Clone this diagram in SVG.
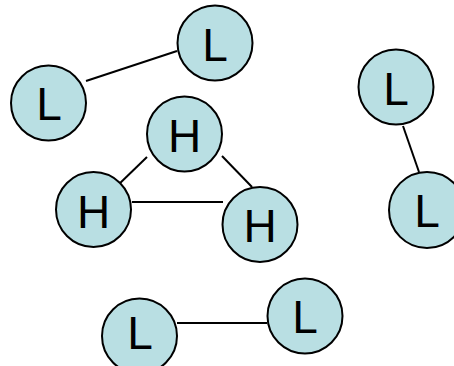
<svg xmlns="http://www.w3.org/2000/svg" width="454" height="366" viewBox="0 0 454 366">
<style>
.n circle{fill:#b9dfe3;stroke:#000;stroke-width:2}
.n text{font-family:"Liberation Sans",Arial,sans-serif;font-size:46px;text-anchor:middle;fill:#000}
#edges line{stroke:#000;stroke-width:2}
</style>
<rect width="454" height="366" fill="#fff"/>
<g id="edges">
<line x1="86" y1="81" x2="177" y2="51"/>
<line x1="147" y1="157" x2="116" y2="187"/>
<line x1="222" y1="156" x2="252" y2="187"/>
<line x1="132" y1="202" x2="223" y2="202"/>
<line x1="403" y1="126" x2="419" y2="172"/>
<line x1="177" y1="323" x2="267" y2="323"/>
</g>
<g id="L1" class="n"><circle cx="215" cy="43" r="37.5"/><text x="215" y="61">L</text></g>
<g id="L2" class="n"><circle cx="48.5" cy="103" r="37.5"/><text x="49" y="120">L</text></g>
<g id="H1" class="n"><circle cx="184.5" cy="134" r="37.5"/><text x="184.5" y="152">H</text></g>
<g id="H2" class="n"><circle cx="93.5" cy="209.5" r="37.5"/><text x="93.5" y="228">H</text></g>
<g id="H3" class="n"><circle cx="260" cy="224.5" r="37.5"/><text x="260" y="242">H</text></g>
<g id="L3" class="n"><circle cx="396" cy="87" r="37.5"/><text x="396" y="105">L</text></g>
<g id="L4" class="n"><circle cx="427" cy="210" r="38"/><text x="427" y="227">L</text></g>
<g id="L5" class="n"><circle cx="139.5" cy="336" r="37.5"/><text x="140" y="349">L</text></g>
<g id="L6" class="n"><circle cx="305" cy="316" r="37.5"/><text x="305" y="333">L</text></g>
</svg>
